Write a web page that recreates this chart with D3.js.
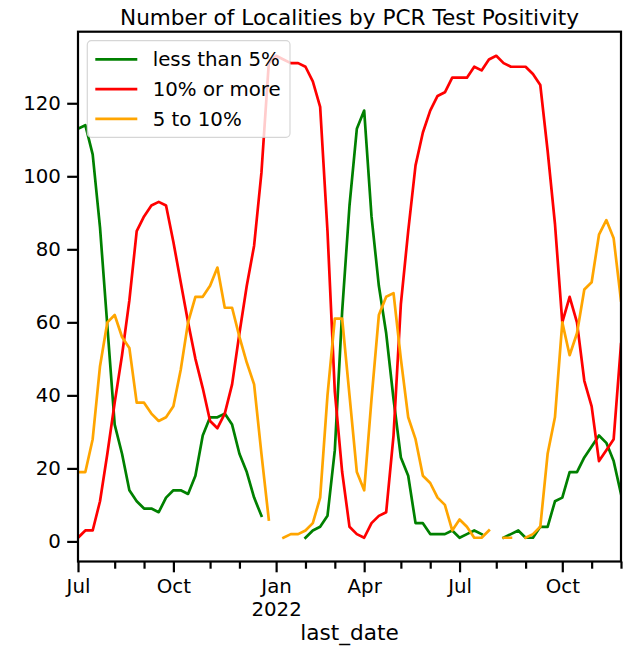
<!doctype html>
<html>
<head>
<meta charset="utf-8">
<title>Number of Localities by PCR Test Positivity</title>
<script src="https://d3js.org/d3.v7.min.js"></script>
<style>
  html, body { margin: 0; padding: 0; background: #fff; }
  svg { display: block; font-family: "DejaVu Sans", sans-serif; }
</style>
</head>
<body>
<div id="chart"></div>
<script>
// weekly counts, one value per week (Sat-Fri, keyed by the Friday); null = no data that week
var firstWeek = Date.UTC(2021, 6, 2);
var lastWeek = Date.UTC(2022, 11, 2);

var seriesNames = ["less than 5%", "10% or more", "5 to 10%"];
var seriesColors = ["green", "red", "orange"];

var lessThan5 = [113,114,106,86,59,32,24,14,11,9,9,8,12,14,14,13,18,29,34,34,35,32,24,19,12,7,
  null,null,null,null,null,
  1,3,4,7,25,63,92,113,118,89,70,57,39,23,18,5,5,2,2,2,3,1,2,3,2,
  null,null,
  1,2,3,1,1,4,4,11,12,19,19,23,26,29,27,22,13];

var tenOrMore = [1,3,3,11,24,38,51,66,85,89,92,93,92,82,71,60,50,42,33,31,
  35,43,57,70,81,101,131,133,132,131,131,130,126,119,85,41,19,4,2,1,
  5,7,8,29,65,85,103,112,118,122,123,127,127,127,130,129,132,133,131,130,
  130,130,128,125,107,87,60,67,60,44,37,22,25,28,54];

var fiveTo10 = [19,19,28,48,60,62,56,53,38,38,35,33,34,37,47,60,67,67,70,75,64,64,56,49,43,24,6,
  null,
  1,2,2,3,5,12,40,61,61,40,19,14,39,62,67,68,50,34,28,18,16,12,10,3,6,4,1,1,3,
  null,
  1,1,
  null,
  1,2,4,24,34,60,51,57,69,71,84,88,83,66];

var yTicks = [0, 20, 40, 60, 80, 100, 120];

var width = 628, height = 648;
var margin = {top: 31.7, right: 7, bottom: 86.5, left: 78};
var iw = width - margin.left - margin.right;
var ih = height - margin.top - margin.bottom;

var weeks = d3.utcFriday.range(new Date(firstWeek), new Date(lastWeek + 1));
var allSeries = [lessThan5, tenOrMore, fiveTo10];

var x = d3.scaleUtc().domain([weeks[0], weeks[weeks.length - 1]]).range([0, iw]);
var y = d3.scaleLinear().domain([-5.5, 139.6]).range([ih, 0]);

var svg = d3.select("#chart").append("svg")
    .attr("width", width).attr("height", height);

svg.append("text")
    .attr("x", margin.left + iw / 2).attr("y", 25)
    .attr("text-anchor", "middle")
    .style("font-size", "21.6px")
    .text("Number of Localities by PCR Test Positivity");

var g = svg.append("g").attr("transform", "translate(" + margin.left + "," + margin.top + ")");

g.append("clipPath").attr("id", "clip")
  .append("rect").attr("width", iw).attr("height", ih);

// month ticks sit on the week that holds the 1st of the month
var months = d3.utcMonth.range(new Date(Date.UTC(2021, 6, 1)), new Date(lastWeek + 1));
var tickWeek = function(m) { return d3.utcFriday.ceil(m); };
var major = months.filter(function(m) { return m.getUTCMonth() % 3 == 0; });
var minor = months.filter(function(m) { return m.getUTCMonth() % 3 != 0; });

var xMinor = g.append("g").attr("transform", "translate(0," + ih + ")")
    .call(d3.axisBottom(x).tickValues(minor.map(tickWeek)).tickSize(7.2).tickFormat(""));
var xMajor = g.append("g").attr("transform", "translate(0," + ih + ")")
    .call(d3.axisBottom(x).tickValues(major.map(tickWeek)).tickSize(10.8).tickPadding(6.3)
      .tickFormat(function(d, i) { return d3.utcFormat("%b")(major[i]); }));

xMajor.selectAll(".tick text").each(function(d, i) {
  if (major[i].getUTCMonth() == 0) {
    d3.select(this).append("tspan")
      .attr("x", 0).attr("dy", "1.18em")
      .text(d3.utcFormat("%Y")(major[i]));
  }
});

var yAxis = g.append("g")
    .call(d3.axisLeft(y).tickValues(yTicks).tickSize(10.8).tickPadding(6.3));

[xMinor, xMajor, yAxis].forEach(function(a) {
  a.select(".domain").remove();
  a.selectAll(".tick line").attr("stroke", "#000").attr("stroke-width", 2.2);
  a.selectAll(".tick text").attr("fill", "#000")
    .style("font-size", "19.8px").style("font-family", "DejaVu Sans, sans-serif");
});
xMajor.selectAll(".tick text").attr("y", 17.1).attr("dy", "0.71em");

// lines
var line = d3.line()
    .defined(function(d) { return d != null; })
    .x(function(d, i) { return x(weeks[i]); })
    .y(function(d) { return y(d); });

g.append("g").attr("clip-path", "url(#clip)")
  .selectAll("path").data(allSeries).enter().append("path")
    .attr("d", line)
    .attr("fill", "none")
    .attr("stroke", function(d, i) { return seriesColors[i]; })
    .attr("stroke-width", 2.7)
    .attr("stroke-linejoin", "round")
    .attr("stroke-linecap", "square");

// frame
g.append("rect").attr("width", iw).attr("height", ih)
  .attr("fill", "none").attr("stroke", "#000").attr("stroke-width", 2.2);

// axis label
svg.append("text")
    .attr("x", margin.left + iw / 2).attr("y", 640)
    .attr("text-anchor", "middle")
    .style("font-size", "21.6px")
    .text("last_date");

// legend
var legend = svg.append("g").attr("transform", "translate(87.3,40.7)");
legend.append("rect")
    .attr("width", 202.7).attr("height", 96.6).attr("rx", 4)
    .attr("fill", "#fff").attr("fill-opacity", 0.8)
    .attr("stroke", "#ccc").attr("stroke-opacity", 0.8).attr("stroke-width", 1.2);
var items = legend.selectAll("g.item").data(seriesNames).enter().append("g")
    .attr("class", "item")
    .attr("transform", function(d, i) { return "translate(0," + (18.6 + i * 29.8) + ")"; });
items.append("line")
    .attr("x1", 8).attr("x2", 50)
    .attr("stroke", function(d, i) { return seriesColors[i]; })
    .attr("stroke-width", 2.7);
items.append("text")
    .attr("x", 65.4).attr("dy", "0.35em")
    .style("font-size", "19.8px")
    .text(function(d) { return d; });
</script>
</body>
</html>
